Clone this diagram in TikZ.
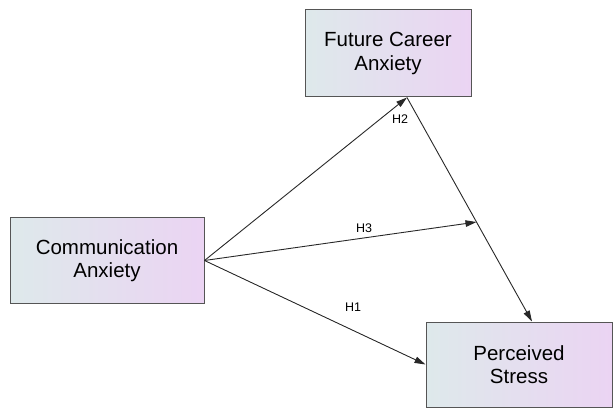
\documentclass[tikz,border=0pt]{standalone}
\usepackage{fontspec}
\setmainfont{Liberation Sans}
\usetikzlibrary{arrows.meta, positioning}
\definecolor{boxleft}{RGB}{222,233,235}
\definecolor{boxright}{RGB}{235,212,243}
\definecolor{boxline}{RGB}{85,85,85}
\definecolor{lineink}{RGB}{40,40,40}
\tikzset{
    construct/.style={rectangle, draw=boxline, line width=1pt, left color=boxleft, right color=boxright, align=center, font=\fontsize{20.5}{23.5}\selectfont, inner sep=0pt},
    arr/.style={-{Triangle[length=11pt, width=6.5pt]}, lineink, line width=0.9pt},
    hyp/.style={font=\fontsize{12.5}{14}\selectfont},
}

\begin{document}
\begin{tikzpicture}[x=1pt, y=-1pt]
\useasboundingbox (0,0) rectangle (616,409);

% ── Constructs ──
\node[construct, minimum width=194pt, minimum height=86pt] (ca) at (107, 260.5) {Communication\\Anxiety};
\node[construct, minimum width=166pt, minimum height=87pt] (fca) at (388, 53.5) {Future Career\\Anxiety};
\node[construct, minimum width=186pt, minimum height=85pt] (ps) at (519, 364.5) {Perceived\\Stress};

\coordinate (fcain) at ([xshift=19pt]fca.south);
\coordinate (psin) at ([xshift=13pt]ps.north);

% ── Paths ──
\draw[arr] (ca.east) -- (fcain);
\draw[arr] (fcain) -- coordinate[pos=0.556] (mod) (psin);
\draw[arr] (ca.east) -- (ps.west);
\draw[arr] (ca.east) -- (mod);

% ── Hypotheses ──
\node[hyp] (h2) at (400, 119) {H2};
\node[hyp] (h3) at (364, 228) {H3};
\node[hyp] (h1) at (353, 307) {H1};

\end{tikzpicture}
\end{document}
